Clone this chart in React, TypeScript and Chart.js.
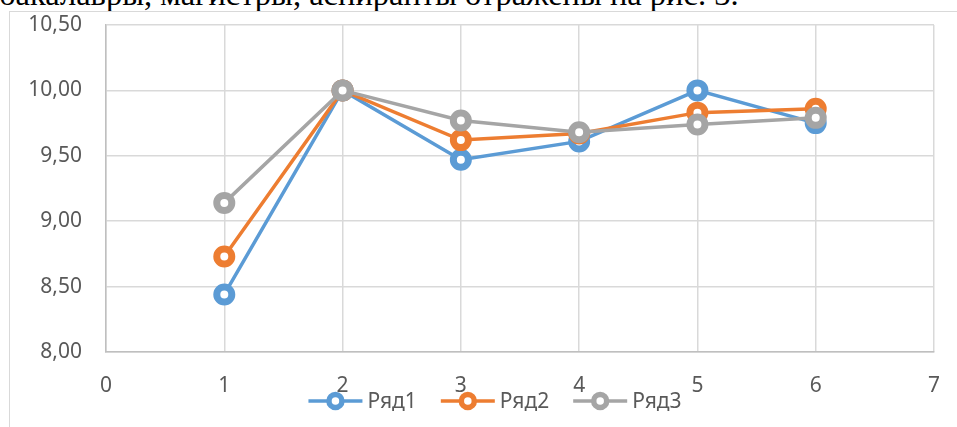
import React, { useEffect, useRef } from 'react';
import { Chart, registerables } from 'chart.js';

Chart.register(...registerables);

const headerText = 'бакалавры, магистры, аспиранты отражены на рис. 3.';
const xValues = [1, 2, 3, 4, 5, 6];
const seriesNames = ['Ряд1', 'Ряд2', 'Ряд3'];
const series1 = [8.44, 10.0, 9.47, 9.61, 10.0, 9.75];
const series2 = [8.73, 10.0, 9.62, 9.67, 9.83, 9.86];
const series3 = [9.14, 10.0, 9.77, 9.68, 9.74, 9.79];
const seriesColors = ['#5B9BD5', '#ED7D31', '#A5A5A5'];
const xMin = 0;
const xMax = 7;
const yMin = 8;
const yMax = 10.5;
const yStep = 0.5;

const FONT = '"Noto Sans", "Open Sans", sans-serif';

const legendPlugin = {
  id: 'excelLegend',
  afterDraw(chart: any, _args: any, opts: any) {
    const ctx = chart.ctx as CanvasRenderingContext2D;
    ctx.save();
    ctx.font = `21px ${FONT}`;
    const sym = 54;
    const gap = 5;
    const spacing = 24;
    const items = chart.data.datasets.map((ds: any) => ({
      text: ds.label,
      color: ds.borderColor,
      w: ctx.measureText(ds.label).width,
    }));
    const total =
      items.reduce((s: number, it: any) => s + sym + gap + it.w, 0) + spacing * (items.length - 1);
    let x = opts.centerX - total / 2;
    const y = opts.y;
    for (const it of items) {
      ctx.strokeStyle = it.color;
      ctx.lineWidth = 3.5;
      ctx.lineCap = 'butt';
      ctx.beginPath();
      ctx.moveTo(x, y);
      ctx.lineTo(x + sym, y);
      ctx.stroke();
      ctx.beginPath();
      ctx.arc(x + sym / 2, y, 6.5, 0, Math.PI * 2);
      ctx.fillStyle = '#ffffff';
      ctx.fill();
      ctx.lineWidth = 5.5;
      ctx.stroke();
      ctx.fillStyle = '#595959';
      ctx.textBaseline = 'middle';
      ctx.textAlign = 'left';
      ctx.fillText(it.text, x + sym + gap, y + 1);
      x += sym + gap + it.w + spacing;
    }
    ctx.restore();
  },
};

export default function App() {
  const ref = useRef<HTMLCanvasElement | null>(null);

  useEffect(() => {
    if (!ref.current) return;
    const allSeries = [series1, series2, series3];
    const chart = new Chart(ref.current, {
      type: 'line',
      data: {
        datasets: allSeries.map((vals, i) => ({
          label: seriesNames[i],
          data: xValues.map((x, j) => ({ x, y: vals[j] })),
          borderColor: seriesColors[i],
          backgroundColor: '#ffffff',
          pointBackgroundColor: '#ffffff',
          pointBorderColor: seriesColors[i],
          borderWidth: 3.5,
          pointRadius: 7.5,
          pointHoverRadius: 7.5,
          pointBorderWidth: 7,
          tension: 0,
          fill: false,
          order: allSeries.length - i,
        })),
      },
      plugins: [legendPlugin],
      options: {
        responsive: false,
        animation: false,
        events: [],
        layout: { padding: { left: 0, right: 23, top: 25, bottom: 0 } },
        plugins: {
          legend: { display: false },
          tooltip: { enabled: false },
          excelLegend: { centerX: 495, y: 401 },
        } as any,
        scales: {
          x: {
            type: 'linear',
            min: xMin,
            max: xMax,
            ticks: {
              stepSize: 1,
              padding: 21,
              color: '#595959',
              font: { family: FONT, size: 21 },
            },
            grid: { color: '#d9d9d9', lineWidth: 1.5, drawTicks: false },
            border: { color: '#bfbfbf', width: 1.5 },
            afterFit: (s: any) => {
              s.height = 75;
              s.paddingLeft = 0;
              s.paddingRight = 0;
            },
          },
          y: {
            type: 'linear',
            min: yMin,
            max: yMax,
            ticks: {
              stepSize: yStep,
              padding: 24,
              color: '#595959',
              font: { family: FONT, size: 21 },
              callback: (v: any) => Number(v).toFixed(2).replace('.', ','),
            },
            grid: { color: '#d9d9d9', lineWidth: 1.5, drawTicks: false },
            border: { color: '#bfbfbf', width: 1.5 },
            afterFit: (s: any) => {
              s.width = 106;
              s.paddingTop = 0;
              s.paddingBottom = 0;
            },
          },
        },
      },
    });
    return () => chart.destroy();
  }, []);

  return (
    <div
      style={{
        position: 'fixed',
        left: 0,
        top: 0,
        width: 957,
        height: 427,
        overflow: 'hidden',
        background: '#ffffff',
      }}
    >
      <div
        style={{
          position: 'absolute',
          left: -1,
          top: -22,
          fontFamily: '"Liberation Serif", "Times New Roman", serif',
          fontSize: 32.5,
          lineHeight: '32px',
          whiteSpace: 'nowrap',
          color: '#000000',
        }}
      >
        {headerText}
      </div>
      <div
        style={{
          position: 'absolute',
          left: 9,
          top: 11,
          width: 1000,
          height: 500,
          borderLeft: '1.5px solid #d9d9d9',
          borderTop: '1.5px solid #d9d9d9',
        }}
      />
      <canvas
        ref={ref}
        width={957}
        height={427}
        style={{ position: 'absolute', left: 0, top: 0, width: 957, height: 427 }}
      />
    </div>
  );
}
